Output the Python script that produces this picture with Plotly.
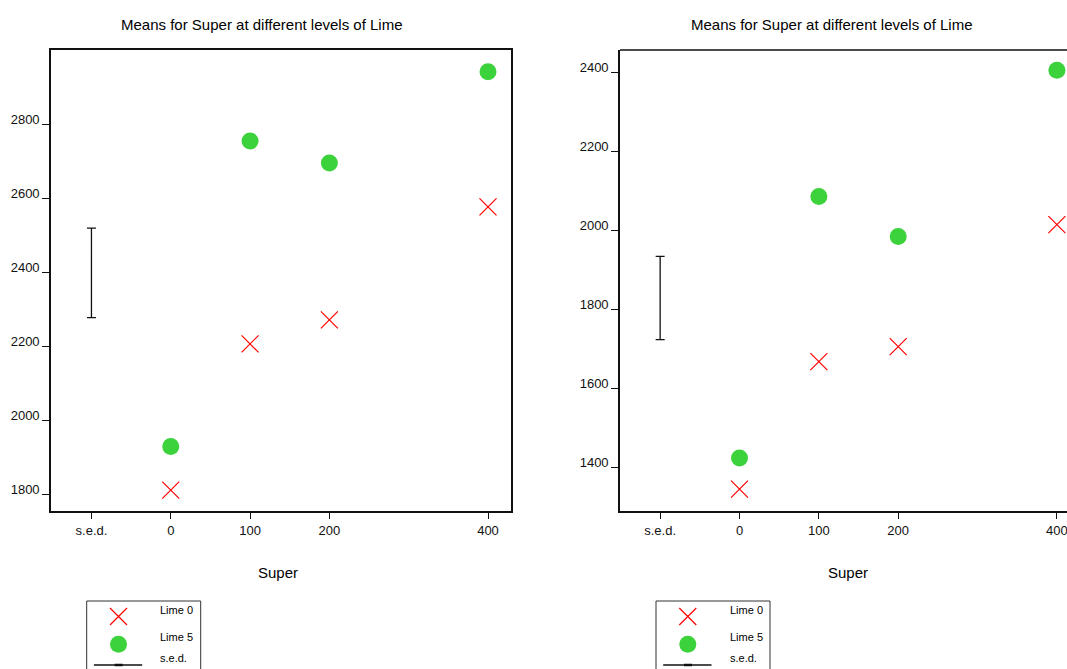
import plotly.graph_objects as go

# ---------------- data ----------------
super_levels = [0, 100, 200, 400]
x_ticktext = ["s.e.d.", "0", "100", "200", "400"]
x_tickvals = [-100, 0, 100, 200, 400]
sed_x = -100

left_lime0 = [1812, 2207, 2272, 2577]
left_lime5 = [1930, 2755, 2696, 2942]
left_sed = 242
left_sed_mid = 2399
left_yticks = [1800, 2000, 2200, 2400, 2600, 2800]

right_lime0 = [1344, 1667, 1705, 2014]
right_lime5 = [1423, 2085, 1984, 2405]
right_sed = 211
right_sed_mid = 1828
right_yticks = [1400, 1600, 1800, 2000, 2200, 2400]

title_text = "Means for Super at different levels of Lime"
xtitle = "Super"
legend_labels = ["Lime 0", "Lime 5", "s.e.d."]

# ---------------- layout constants (page pixels) ----------------
W, H = 1067, 669
FONT = "Liberation Sans, Arial, sans-serif"
RED = "#ff0000"
GREEN = "#3cd23c"
INK = "#111111"


def px(x):
    return x / W


def py(y):
    return 1 - y / H


fig = go.Figure()

panels = [
    dict(xa="x", ya="y", lime0=left_lime0, lime5=left_lime5, sed=left_sed,
         mid=left_sed_mid, yticks=left_yticks,
         yr=(1757, 3001), xr=(-151, 429),
         title_x=262, axt_x=278, leg_left=86.7),
    dict(xa="x2", ya="y2", lime0=right_lime0, lime5=right_lime5, sed=right_sed,
         mid=right_sed_mid, yticks=right_yticks,
         yr=(1290, 2456), xr=(-150.6, 412.7),
         title_x=832, axt_x=848, leg_left=656),
]

for p in panels:
    fig.add_trace(go.Scatter(
        x=super_levels, y=p["lime0"], mode="markers", xaxis=p["xa"], yaxis=p["ya"],
        marker=dict(symbol="x-thin", size=17, line=dict(color=RED, width=1.2)),
        showlegend=False))
    fig.add_trace(go.Scatter(
        x=super_levels, y=p["lime5"], mode="markers", xaxis=p["xa"], yaxis=p["ya"],
        marker=dict(symbol="circle", size=17, color=GREEN, line=dict(width=0)),
        showlegend=False))
    fig.add_trace(go.Scatter(
        x=[sed_x], y=[p["mid"]], mode="markers", xaxis=p["xa"], yaxis=p["ya"],
        marker=dict(size=1, opacity=0),
        error_y=dict(type="data", array=[p["sed"] / 2], symmetric=True,
                     color=INK, thickness=1.3, width=4.5),
        showlegend=False))

axis_common = dict(showgrid=False, zeroline=False, ticks="outside", ticklen=7,
                   tickwidth=1.3, tickcolor=INK, showline=True,
                   linecolor=INK, linewidth=1.6,
                   tickfont=dict(family=FONT, size=13, color=INK))

top, bottom = 50, 510.5

fig.update_layout(
    xaxis=dict(domain=[px(51), px(511)], range=list(panels[0]["xr"]), anchor="y",
               tickmode="array", tickvals=x_tickvals, ticktext=x_ticktext,
               mirror=True, **axis_common),
    yaxis=dict(domain=[py(bottom), py(top)], range=list(panels[0]["yr"]), anchor="x",
               tickmode="array", tickvals=left_yticks, mirror=True,
               ticklabelshift=-5, ticklabelstandoff=0, **axis_common),
    xaxis2=dict(domain=[px(620), 1.0], range=list(panels[1]["xr"]), anchor="y2",
                tickmode="array", tickvals=x_tickvals, ticktext=x_ticktext,
                mirror=False, ticklabeloverflow="allow", **axis_common),
    yaxis2=dict(domain=[py(bottom), py(top)], range=list(panels[1]["yr"]), anchor="x2",
                tickmode="array", tickvals=right_yticks, mirror=False,
                ticklabelshift=-5, ticklabelstandoff=0, **axis_common),
    xaxis3=dict(domain=[0, 1], range=[0, W], visible=False, anchor="y3",
                fixedrange=True),
    yaxis3=dict(domain=[0, 1], range=[H, 0], visible=False, anchor="x3",
                fixedrange=True),
)

shapes = []
annotations = []
# top frame line of right panel (its right side is cut off by the page edge)
shapes.append(dict(type="line", xref="paper", yref="paper", x0=px(620), x1=1.0,
                   y0=py(top), y1=py(top), line=dict(color=INK, width=1.6)))

for p in panels:
    annotations.append(dict(text=title_text, xref="paper", yref="paper",
                            x=px(p["title_x"]), y=py(25), showarrow=False,
                            xanchor="center", yanchor="middle",
                            font=dict(family=FONT, size=15, color="#000000")))
    annotations.append(dict(text=xtitle, xref="paper", yref="paper",
                            x=px(p["axt_x"]), y=py(572), showarrow=False,
                            xanchor="center", yanchor="middle",
                            font=dict(family=FONT, size=15, color="#000000")))
    L = p["leg_left"]
    shapes.append(dict(type="rect", xref="x3", yref="y3", x0=L, x1=L + 114,
                       y0=601, y1=700, line=dict(color="#333333", width=1)))
    for lab, yy in zip(legend_labels, [610, 637, 658]):
        annotations.append(dict(text=lab, xref="x3", yref="y3", x=L + 71.5, y=yy,
                                showarrow=False, xanchor="left", yanchor="middle",
                                font=dict(family=FONT, size=11, color="#000000")))
    fig.add_trace(go.Scatter(x=[L + 31.8], y=[616.5], mode="markers", xaxis="x3", yaxis="y3",
                             marker=dict(symbol="x-thin", size=17,
                                         line=dict(color=RED, width=1.2)),
                             showlegend=False, hoverinfo="skip"))
    fig.add_trace(go.Scatter(x=[L + 31.8], y=[644.3], mode="markers", xaxis="x3", yaxis="y3",
                             marker=dict(symbol="circle", size=17, color=GREEN),
                             showlegend=False, hoverinfo="skip"))
    shapes.append(dict(type="line", xref="x3", yref="y3", x0=L + 7.2, x1=L + 55.5,
                       y0=665, y1=665, line=dict(color=INK, width=1.3)))
    shapes.append(dict(type="line", xref="x3", yref="y3", x0=L + 28, x1=L + 36,
                       y0=665, y1=665, line=dict(color=INK, width=2.5)))

fig.update_layout(
    width=W, height=H, autosize=False,
    margin=dict(l=0, r=0, t=0, b=0, pad=0, autoexpand=False),
    paper_bgcolor="white", plot_bgcolor="rgba(0,0,0,0)",
    showlegend=False, shapes=shapes, annotations=annotations,
    font=dict(family=FONT, color="#000000"),
)

fig.write_html(
    "out.html",
    config={"displayModeBar": False},
    post_script="document.body.style.margin='0';document.body.style.overflow='hidden';",
)
